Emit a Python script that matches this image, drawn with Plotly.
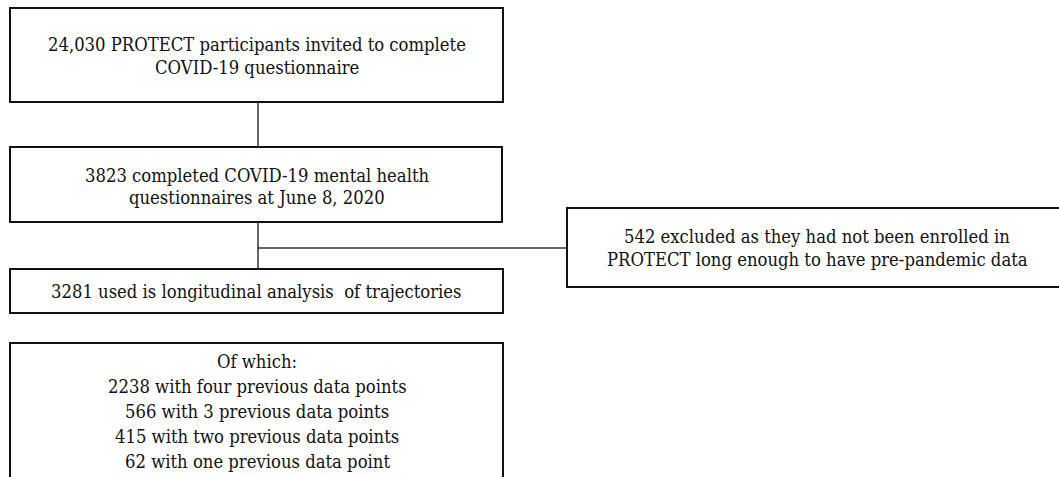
import plotly.graph_objects as go

# Flowchart content (text per box, line by line)
box_texts = [
    ["24,030 PROTECT participants invited to complete", "COVID-19 questionnaire"],
    ["3823 completed COVID-19 mental health", "questionnaires at June 8, 2020"],
    ["542 excluded as they had not been enrolled in", "PROTECT long enough to have pre-pandemic data"],
    ["3281 used is longitudinal analysis  of trajectories"],
    ["Of which:", "2238 with four previous data points", "566 with 3 previous data points",
     "415 with two previous data points", "62 with one previous data point"],
]

# Layout geometry (pixels, y downward): x0, x1, y0, y1, text centre x, first line y, line step
boxes = [
    (10, 503, 8, 102, 257, 44, 23),
    (10, 502, 147, 222, 257, 175, 22),
    (567, 1064, 208, 287, 817, 236, 23),
    (10, 503, 269, 313, 256, 291, 0),
    (10, 503, 343, 485, 257, 361, 25.2),
]
connectors = [
    ((258, 102), (258, 147)),
    ((258, 222), (258, 269)),
    ((258, 248), (567, 248)),
]

W, H = 1059, 477
FONT = "DejaVu Serif Condensed, DejaVu Serif"
fig = go.Figure()
shapes = []
annotations = []
for (x0, x1, y0, y1, cx, fy, step), lines in zip(boxes, box_texts):
    shapes.append(dict(type="rect", xref="x", yref="y", x0=x0, x1=x1, y0=y0, y1=y1,
                       line=dict(color="#111111", width=2), fillcolor="rgba(0,0,0,0)"))
    for i, t in enumerate(lines):
        annotations.append(dict(x=cx, y=fy + i * step, xref="x", yref="y", text=t,
                                showarrow=False, xanchor="center", yanchor="middle",
                                font=dict(family=FONT, size=18.3, color="#111111")))
for (a, b) in connectors:
    shapes.append(dict(type="line", xref="x", yref="y", x0=a[0], y0=a[1], x1=b[0], y1=b[1],
                       line=dict(color="#333333", width=1.5)))

fig.update_layout(
    width=W, height=H,
    margin=dict(l=0, r=0, t=0, b=0),
    paper_bgcolor="white", plot_bgcolor="white",
    font=dict(family=FONT),
    xaxis=dict(range=[0, W], visible=False, fixedrange=True),
    yaxis=dict(range=[H, 0], visible=False, fixedrange=True),
    shapes=shapes, annotations=annotations, showlegend=False,
)
fig.write_html("out.html", config={"displayModeBar": False},
               post_script="document.body.style.margin='0';document.body.style.overflow='hidden';")
